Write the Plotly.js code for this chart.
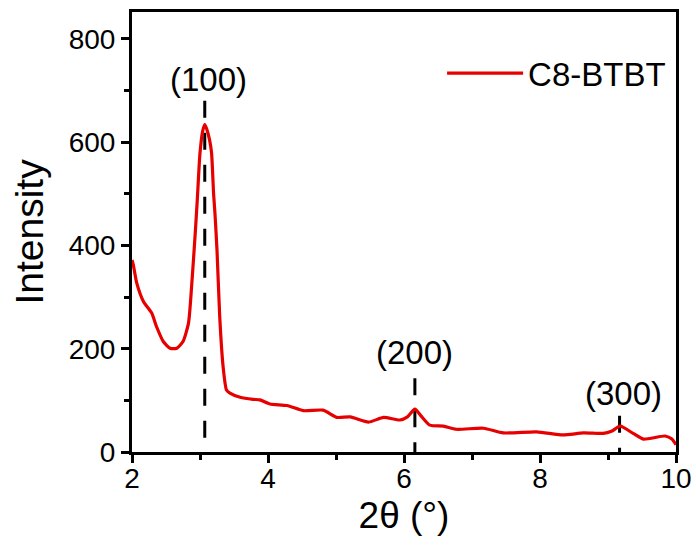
<!DOCTYPE html>
<html>
<head>
<meta charset="utf-8">
<script src="https://cdn.plot.ly/plotly-3.0.1.min.js"></script>
<style>html,body{margin:0;padding:0;background:#fff;}#chart{width:696px;height:545px;}</style>
</head>
<body>
<div id="chart"></div>
<script>
var twoTheta = [2.0, 2.02, 2.07, 2.17, 2.29, 2.36, 2.46, 2.56, 2.66, 2.75, 2.83, 2.88, 2.93, 2.96, 3.0, 3.04, 3.07, 3.10, 3.14, 3.17, 3.20, 3.22, 3.25, 3.29, 3.34, 3.39, 3.44, 3.59, 3.78, 3.88, 4.03, 4.28, 4.52, 4.81, 5.01, 5.21, 5.48, 5.70, 5.94, 6.05, 6.16, 6.25, 6.38, 6.58, 6.77, 7.17, 7.46, 7.95, 8.34, 8.64, 8.93, 9.05, 9.18, 9.37, 9.52, 9.84, 9.94, 10.0];
var intensity = [372, 362, 327, 291, 269, 243, 214, 201, 201, 214, 249, 327, 424, 488, 579, 622, 634, 625, 605, 579, 500, 462, 391, 262, 165, 120, 114, 106, 102, 101, 93, 90, 80, 81, 67, 68, 58, 67, 62, 68, 83, 70, 52, 50, 44, 46, 37, 39, 33, 37, 36, 40, 50, 36, 25, 31, 25, 14];
var peakPos = [3.07, 6.16, 9.17];
var peakTop = [680, 143, 70];
var peakLabels = ['(100)', '(200)', '(300)'];
var labelX = [3.12, 6.16, 9.23];
var labelY = [721, 192, 114];
var seriesName = 'C8-BTBT';

var FONT = 'Arial, "Liberation Sans", sans-serif';
var traces = [];
for (var i = 0; i < peakPos.length; i++) {
  traces.push({
    x: [peakPos[i], peakPos[i]], y: [peakTop[i], 0],
    mode: 'lines', showlegend: false, hoverinfo: 'skip',
    line: {color: '#000', width: 3, dash: '17px,15px'}
  });
}
traces.push({
  x: twoTheta, y: intensity, mode: 'lines', name: seriesName,
  line: {color: '#e60000', width: 3.2, shape: 'spline', smoothing: 0.6}
});

var annotations = peakLabels.map(function(t, i) {
  return {x: labelX[i], y: labelY[i], xref: 'x', yref: 'y', text: t, showarrow: false,
    font: {family: FONT, size: 33, color: '#000'}};
});

var layout = {
  width: 696, height: 545,
  margin: {l: 132, r: 20, t: 12, b: 93},
  paper_bgcolor: '#fff', plot_bgcolor: '#fff',
  showlegend: true,
  legend: {x: 0.57, y: 0.861, xanchor: 'left', yanchor: 'middle', bgcolor: 'rgba(0,0,0,0)',
    font: {family: FONT, size: 33, color: '#000'}, itemwidth: 76},
  xaxis: {
    range: [2, 10], tickvals: [2, 4, 6, 8, 10], ticktext: ['2', '4', '6', '8', '10'],
    ticks: 'outside', ticklen: 8, tickwidth: 3, tickcolor: '#000', ticklabelstandoff: -9,
    minor: {tickvals: [3, 5, 7, 9], ticks: 'outside', ticklen: 5, tickwidth: 3, tickcolor: '#000'},
    showline: true, linewidth: 3, linecolor: '#000', mirror: true,
    showgrid: false, zeroline: false,
    tickfont: {family: FONT, size: 28, color: '#000'},
    title: {text: '2θ (°)', font: {family: FONT, size: 37, color: '#000'}, standoff: 10}
  },
  yaxis: {
    range: [0, 852], tickvals: [0, 200, 400, 600, 800],
    ticks: 'outside', ticklen: 8, tickwidth: 3, tickcolor: '#000',
    minor: {tickvals: [100, 300, 500, 700], ticks: 'outside', ticklen: 5, tickwidth: 3, tickcolor: '#000'},
    showline: true, linewidth: 3, linecolor: '#000', mirror: true,
    showgrid: false, zeroline: false,
    tickfont: {family: FONT, size: 28, color: '#000'},
    title: {text: 'Intensity', font: {family: FONT, size: 39, color: '#000'}, standoff: 14}
  },
  annotations: annotations
};
Plotly.newPlot('chart', traces, layout, {displayModeBar: false, staticPlot: true});
</script>
</body>
</html>
